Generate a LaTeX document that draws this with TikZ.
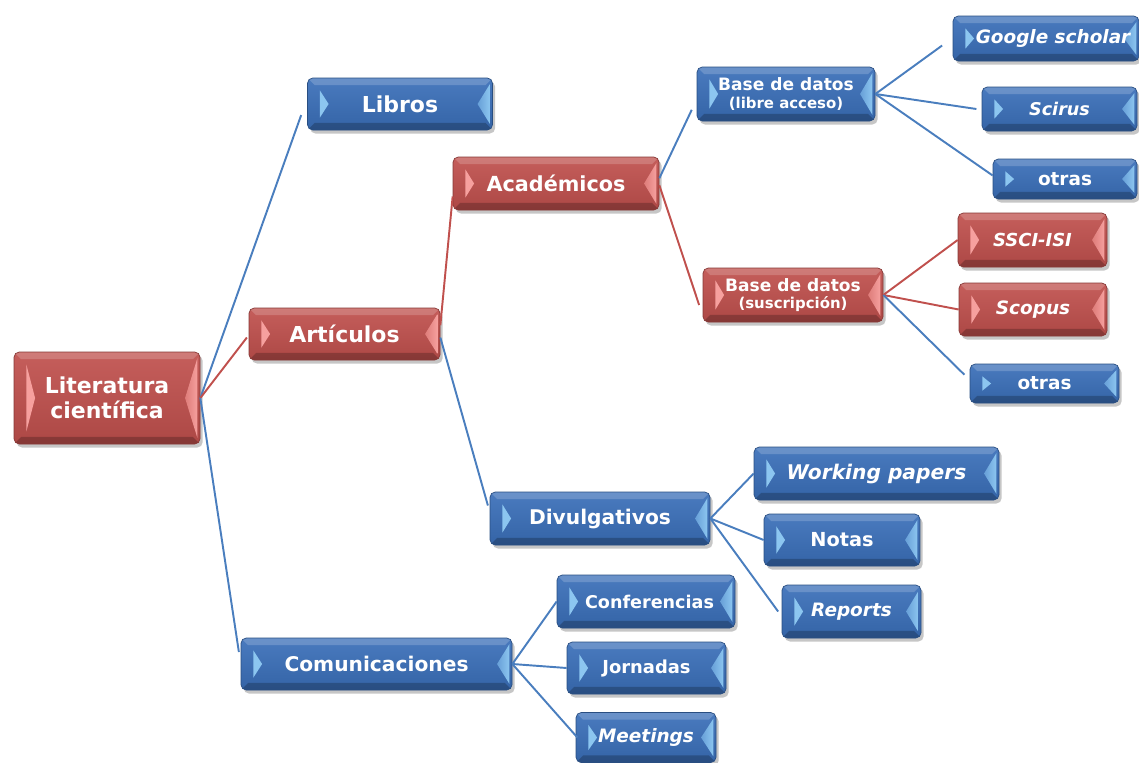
\documentclass[tikz,border=0pt]{standalone}
\usepackage{fontspec}
\setmainfont{DejaVu Sans}
\usetikzlibrary{shadows}
\definecolor{cajaazul}{RGB}{58,111,185}
\definecolor{luzazul}{RGB}{140,198,240}
\definecolor{cajaroja}{RGB}{192,80,77}
\definecolor{luzroja}{RGB}{246,160,158}
\definecolor{lineaazul}{RGB}{74,126,190}
\definecolor{linearoja}{RGB}{192,80,77}
\newcommand{\tam}[2]{\fontsize{#1}{#2}\selectfont\bfseries}

\begin{document}
\begin{tikzpicture}[
 bevel/.style 2 args={rounded corners=3pt,inner sep=0pt,align=center,text=white,
  draw=#1!70!black,top color=#1!92!white,bottom color=#1!90!black,
  drop shadow={shadow xshift=1.5pt,shadow yshift=-2pt,opacity=0.45},
  path picture={
   \path (path picture bounding box.north west) coordinate (nw)
         (path picture bounding box.north east) coordinate (ne)
         (path picture bounding box.south west) coordinate (sw)
         (path picture bounding box.south east) coordinate (se)
         (path picture bounding box.west) coordinate (w)
         (path picture bounding box.east) coordinate (e);
   \fill[sharp corners,white,opacity=.18] (nw) -- (ne) -- ([shift={(-4pt,-4pt)}]ne) -- ([shift={(4pt,-4pt)}]nw) -- cycle;
   \fill[sharp corners,black,opacity=.22] (sw) -- (se) -- ([shift={(-4pt,4pt)}]se) -- ([shift={(4pt,4pt)}]sw) -- cycle;
   \fill[sharp corners,#2] ([shift={(7pt,-7pt)}]nw) -- ([xshift=12pt]w) -- ([shift={(7pt,7pt)}]sw) -- cycle;
   \shade[sharp corners,left color=#2!55!#1,right color=#2] ([shift={(-1.5pt,-3.5pt)}]ne) -- ([xshift=-8.5pt]e) -- ([shift={(-1.5pt,3.5pt)}]se) -- cycle;
  }},
 azul/.style={bevel={cajaazul}{luzazul}},
 rojo/.style={bevel={cajaroja}{luzroja}},
 lazul/.style={draw=lineaazul,line width=1.1pt},
 lrojo/.style={draw=linearoja,line width=1.1pt}]
\useasboundingbox (0,0) rectangle (22.78,-15.24);

% primer nivel
\node[rojo,minimum width=3.72cm,minimum height=1.84cm,font=\tam{12.5}{14.5}] (lit) at (2.14,-7.96) {Literatura\\científica};
\node[azul,minimum width=3.7cm,minimum height=1.04cm,font=\tam{12.5}{14}] (libros) at (8.0,-2.08) {Libros};
\node[rojo,minimum width=3.82cm,minimum height=1.04cm,font=\tam{12.5}{14}] (art) at (6.89,-6.68) {Artículos};
\node[azul,minimum width=5.42cm,minimum height=1.04cm,font=\tam{11.5}{14}] (com) at (7.53,-13.28) {Comunicaciones};

% articulos
\node[rojo,minimum width=4.12cm,minimum height=1.06cm,font=\tam{11.8}{14}] (acad) at (11.12,-3.67) {Académicos};
\node[azul,minimum width=4.4cm,minimum height=1.06cm,font=\tam{11.5}{14}] (div) at (12.0,-10.37) {Divulgativos};

% bases de datos
\node[azul,minimum width=3.56cm,minimum height=1.08cm,font=\tam{9.7}{10}] (libre) at (15.72,-1.88) {Base de datos\\{\fontsize{8.5}{9}\selectfont(libre acceso)}};
\node[rojo,minimum width=3.6cm,minimum height=1.08cm,font=\tam{9.7}{10}] (susc) at (15.86,-5.9) {Base de datos\\{\fontsize{8.5}{9}\selectfont(suscripción)}};

\node[azul,minimum width=3.72cm,minimum height=0.9cm,font=\tam{10.5}{12}\itshape] (google) at (20.92,-0.77) {\hspace*{8pt}Google scholar};
\node[azul,minimum width=3.1cm,minimum height=0.88cm,font=\tam{10}{12}\itshape] (scirus) at (21.19,-2.18) {Scirus};
\node[azul,minimum width=2.88cm,minimum height=0.8cm,font=\tam{10.5}{12}] (otrasa) at (21.3,-3.58) {otras};
\node[rojo,minimum width=2.98cm,minimum height=1.08cm,font=\tam{10.2}{12}\itshape] (ssci) at (20.65,-4.8) {SSCI-ISI};
\node[rojo,minimum width=2.96cm,minimum height=1.06cm,font=\tam{10.5}{12}\itshape] (scopus) at (20.66,-6.19) {Scopus};
\node[azul,minimum width=2.98cm,minimum height=0.78cm,font=\tam{10.5}{12}] (otrasb) at (20.89,-7.67) {otras};

% divulgativos
\node[azul,minimum width=4.9cm,minimum height=1.06cm,font=\tam{11.5}{14}\itshape] (wp) at (17.53,-9.47) {Working papers};
\node[azul,minimum width=3.12cm,minimum height=1.04cm,font=\tam{11}{13}] (notas) at (16.84,-10.8) {Notas};
\node[azul,minimum width=2.78cm,minimum height=1.06cm,font=\tam{10.5}{12}\itshape] (reports) at (17.03,-12.23) {Reports};

% comunicaciones
\node[azul,minimum width=3.56cm,minimum height=1.06cm,font=\tam{10}{12}] (conf) at (12.92,-12.03) {\hspace*{4pt}Conferencias};
\node[azul,minimum width=3.18cm,minimum height=1.04cm,font=\tam{10.2}{12}] (jorn) at (12.93,-13.36) {Jornadas};
\node[azul,minimum width=2.8cm,minimum height=1.0cm,font=\tam{10.5}{12}\itshape] (meet) at (12.92,-14.75) {Meetings};

% conectores
\draw[lazul] (lit.east) -- ([xshift=-3.4pt,yshift=-6.3pt]libros.west);
\draw[lrojo] (lit.east) -- ([xshift=-1pt,yshift=-2pt]art.west);
\draw[lazul] (lit.east) -- ([xshift=-1pt,yshift=6.8pt]com.west);
\draw[lrojo] ([yshift=5pt]art.east) -- ([yshift=-7.4pt]acad.west);
\draw[lazul] ([yshift=-2pt]art.east) -- ([xshift=-1pt,yshift=7.4pt]div.west);
\draw[lazul] ([yshift=3pt]acad.east) -- ([xshift=-2.8pt,yshift=-9pt]libre.west);
\draw[lrojo] ([yshift=-1pt]acad.east) -- ([xshift=-2pt,yshift=-5.7pt]susc.west);
\draw[lazul] (libre.east) -- ([xshift=-6pt,yshift=-4pt]google.west);
\draw[lazul] (libre.east) -- ([xshift=-3pt]scirus.west);
\draw[lazul] (libre.east) -- ([yshift=2pt]otrasa.west);
\draw[lrojo] (susc.east) -- (ssci.west);
\draw[lrojo] (susc.east) -- (scopus.west);
\draw[lazul] (susc.east) -- ([xshift=-3pt,yshift=5pt]otrasb.west);
\draw[lazul] (div.east) -- (wp.west);
\draw[lazul] (div.east) -- (notas.west);
\draw[lazul] (div.east) -- ([xshift=-2pt]reports.west);
\draw[lazul] (com.east) -- (conf.west);
\draw[lazul] (com.east) -- (jorn.west);
\draw[lazul] (com.east) -- ([xshift=1pt]meet.west);
\end{tikzpicture}
\end{document}
